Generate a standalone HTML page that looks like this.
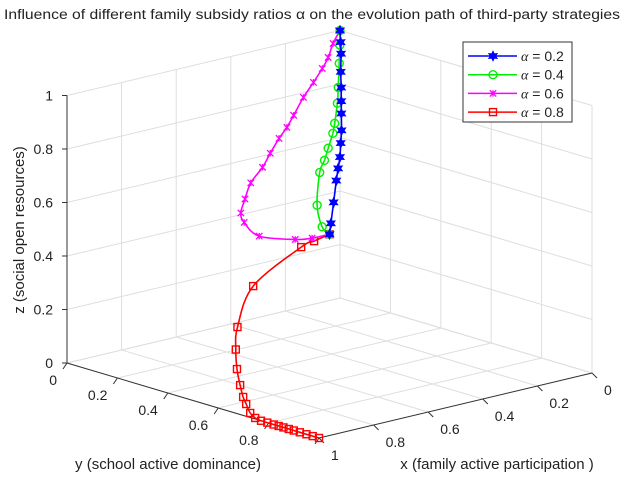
<!DOCTYPE html>
<html><head><meta charset="utf-8"><style>
html,body{margin:0;padding:0;background:#fff;}
svg{display:block;font-family:"Liberation Sans",sans-serif;}
</style></head><body>
<svg id="chart" width="624" height="477" viewBox="0 0 624 477" xmlns="http://www.w3.org/2000/svg">
<text x="312" y="19" text-anchor="middle" font-size="13.5" fill="#222" textLength="616" lengthAdjust="spacingAndGlyphs">Influence of different family subsidy ratios α on the evolution path of third-party strategies</text>
<g id="grid"></g>
<g id="axes"></g>
<g id="series"></g>
<text transform="translate(24,230) rotate(-90)" text-anchor="middle" font-size="15" fill="#222">z (social open resources)</text>
<text x="168" y="469" text-anchor="middle" font-size="15" fill="#222">y  (school active dominance)</text>
<text x="497" y="469" text-anchor="middle" font-size="15" fill="#222">x (family active participation )</text>
<g id="legend"></g>
</svg>
<script>
const ticks = [0, 0.2, 0.4, 0.6, 0.8, 1];
const tickLabels = ["0", "0.2", "0.4", "0.6", "0.8", "1"];
const seriesNames = ["α = 0.2", "α = 0.4", "α = 0.6", "α = 0.8"];
const blueX = [0.5,0.47,0.4,0.32,0.27,0.22,0.17,0.12,0.08,0.06,0.04,0.025,0.01,0.005,0];
const blueY = [0.5,0.473,0.408,0.332,0.285,0.238,0.187,0.136,0.092,0.07,0.048,0.03,0.015,0.008,0];
const blueZ = [0.5,0.526,0.569,0.61,0.63,0.647,0.673,0.694,0.735,0.77,0.81,0.86,0.92,0.96,1];
const greenX = [0.5,0.55,0.55,0.45,0.38,0.3,0.22,0.17,0.1,0.06,0.025,0.008,0];
const greenY = [0.5,0.525,0.505,0.407,0.35,0.278,0.21,0.163,0.098,0.058,0.024,0.008,0];
const greenZ = [0.5,0.547,0.622,0.693,0.705,0.711,0.728,0.74,0.78,0.818,0.89,0.95,1];
const magX = [0.5,0.56,0.62,0.74,0.77,0.76,0.72,0.66,0.57,0.5,0.43,0.37,0.31,0.23,0.16,0.1,0.06,0.03,0];
const magY = [0.5,0.496,0.494,0.481,0.454,0.43,0.403,0.361,0.31,0.265,0.224,0.19,0.152,0.104,0.068,0.038,0.018,0.005,0];
const magZ = [0.5,0.499,0.508,0.546,0.597,0.623,0.658,0.692,0.714,0.737,0.764,0.781,0.801,0.835,0.864,0.893,0.919,0.96,1];
const redX = [0.5,0.56,0.6,0.75,0.85,0.93,0.97,1,1,1,1,1,1,1,1,1,1,1,1,1,1,1,1];
const redY = [0.5,0.504,0.496,0.468,0.514,0.594,0.642,0.687,0.699,0.711,0.727,0.747,0.77,0.795,0.82,0.84,0.859,0.88,0.9,0.924,0.95,0.975,1];
const redZ = [0.5,0.49,0.475,0.358,0.242,0.2,0.15,0.11,0.069,0.046,0.017,0.004,0,0,0,0,0,0,0,0,0,0,0];

const NS = "http://www.w3.org/2000/svg";
const B = [340, 298], XD = [-273, 65], YD = [252, 75], ZH = 267.5;
function proj(x, y, z) { return [B[0] + XD[0]*x + YD[0]*y, B[1] + XD[1]*x + YD[1]*y - ZH*z]; }
function mk(tag, attrs, parent) { const e = document.createElementNS(NS, tag); for (const k in attrs) e.setAttribute(k, attrs[k]); parent.appendChild(e); return e; }
function line(p, q, stroke, w, parent) { return mk("line", {x1:p[0], y1:p[1], x2:q[0], y2:q[1], stroke:stroke, "stroke-width":w}, parent); }
function smoothPath(pts) {
  let d = "M" + pts[0][0].toFixed(1) + "," + pts[0][1].toFixed(1);
  for (let i = 0; i < pts.length - 1; i++) {
    const p0 = pts[Math.max(0, i-1)], p1 = pts[i], p2 = pts[i+1], p3 = pts[Math.min(pts.length-1, i+2)];
    const c1 = [p1[0] + (p2[0]-p0[0])/6, p1[1] + (p2[1]-p0[1])/6];
    const c2 = [p2[0] - (p3[0]-p1[0])/6, p2[1] - (p3[1]-p1[1])/6];
    d += "C" + c1[0].toFixed(1) + "," + c1[1].toFixed(1) + " " + c2[0].toFixed(1) + "," + c2[1].toFixed(1) + " " + p2[0].toFixed(1) + "," + p2[1].toFixed(1);
  }
  return d;
}

const grid = document.getElementById("grid");
const gc = "#dedede";
ticks.forEach(t => {
  let l;
  l = line(proj(t,0,0), proj(t,0,1), gc, 1, grid);  
  l = line(proj(0,t,0), proj(0,t,1), gc, 1, grid);  
  l = line(proj(0,0,t), proj(1,0,t), gc, 1, grid);  
  l = line(proj(0,0,t), proj(0,1,t), gc, 1, grid);  
  l = line(proj(t,0,0), proj(t,1,0), gc, 1, grid);  
  l = line(proj(0,t,0), proj(1,t,0), gc, 1, grid);  
});

const axes = document.getElementById("axes");
const ac = "#333";
let a;
a = line(proj(1,0,0), proj(1,0,1), ac, 1, axes);  
a = line(proj(1,0,0), proj(1,1,0), ac, 1, axes);  
a = line(proj(0,1,0), proj(1,1,0), ac, 1, axes);  
ticks.forEach((t, i) => {
  const pz = proj(1,0,t);
  line(pz, [pz[0]-5, pz[1]], ac, 1, axes);
  const tz = mk("text", {x:pz[0]-14, y:pz[1]+5, "text-anchor":"end", "font-size":14, fill:"#222"}, axes);
  tz.textContent = tickLabels[i];
  
  
  const py = proj(1,t,0);
  line(py, [py[0]-4, py[1]+6], ac, 1, axes);
  if (i < 5) {
    const ty = mk("text", {x:py[0]-10, y:py[1]+22, "text-anchor":"end", "font-size":14, fill:"#222"}, axes);
    ty.textContent = tickLabels[i];
    
    
  }
  const px = proj(t,1,0);
  line(px, [px[0]+5, px[1]+5], ac, 1, axes);
  const tx = mk("text", {x:px[0]+12, y:px[1]+22, "text-anchor":"start", "font-size":14, fill:"#222"}, axes);
  tx.textContent = tickLabels[i];
  
  
});

function marker(type, cx, cy, color, parent) {
  const g = mk("g", {}, parent);
  if (type === "star") {
    let d = "";
    for (let k = 0; k < 12; k++) { const r = k % 2 ? 2.6 : 5; const ang = -Math.PI/2 + k*Math.PI/6; d += (k ? "L" : "M") + (cx + r*Math.cos(ang)).toFixed(2) + "," + (cy + r*Math.sin(ang)).toFixed(2); }
    mk("path", {d:d+"Z", fill:color, stroke:color, "stroke-width":0.8}, g);
  } else if (type === "circle") {
    mk("circle", {cx:cx, cy:cy, r:4, fill:"none", stroke:color, "stroke-width":1.4}, g);
  } else if (type === "aster") {
    const r = 3.2;
    mk("path", {d:`M${cx-r},${cy-r}L${cx+r},${cy+r}M${cx-r},${cy+r}L${cx+r},${cy-r}M${cx},${cy-r}L${cx},${cy+r}`, stroke:color, "stroke-width":1.3, fill:"none"}, g);
  } else {
    mk("rect", {x:cx-3.5, y:cy-3.5, width:7, height:7, fill:"none", stroke:color, "stroke-width":1.4}, g);
  }
  return g;
}

const seriesDefs = [
  {xs:redX, ys:redY, zs:redZ, color:"#ff0000", m:"square", name:"series-alpha-0.8"},
  {xs:magX, ys:magY, zs:magZ, color:"#ff00ff", m:"aster", name:"series-alpha-0.6"},
  {xs:greenX, ys:greenY, zs:greenZ, color:"#00ee00", m:"circle", name:"series-alpha-0.4"},
  {xs:blueX, ys:blueY, zs:blueZ, color:"#0000ff", m:"star", name:"series-alpha-0.2"}
];
const sg = document.getElementById("series");
seriesDefs.forEach(s => {
  const g = mk("g", {}, sg);
  
  
  const pts = s.xs.map((x, i) => proj(x, s.ys[i], s.zs[i]));
  const pl = mk("path", {d: smoothPath(pts), fill:"none", stroke:s.color, "stroke-width":1.6, "stroke-linejoin":"round"}, g);
  
  
  pts.forEach(p => {
    const m = marker(s.m, p[0], p[1], s.color, g);
    
    
  });
});

const lg = document.getElementById("legend");
const box = mk("rect", {x:463, y:42, width:109, height:80, fill:"#fff", stroke:"#333", "stroke-width":1}, lg);


const legColors = ["#0000ff", "#00ee00", "#ff00ff", "#ff0000"];
const legMarkers = ["star", "circle", "aster", "square"];
seriesNames.forEach((n, i) => {
  const y = 56 + i*18.7;
  const g = mk("g", {}, lg);
  
  
  line([468, y], [517, y], legColors[i], 1.5, g);
  marker(legMarkers[i], 493, y, legColors[i], g);
  const t = mk("text", {x:521, y:y+5, "font-size":14, fill:"#222"}, g);
  t.innerHTML = '<tspan font-family="Liberation Serif, serif" font-style="italic">α</tspan> = ' + n.split("= ")[1];
});
</script>
</body></html>
